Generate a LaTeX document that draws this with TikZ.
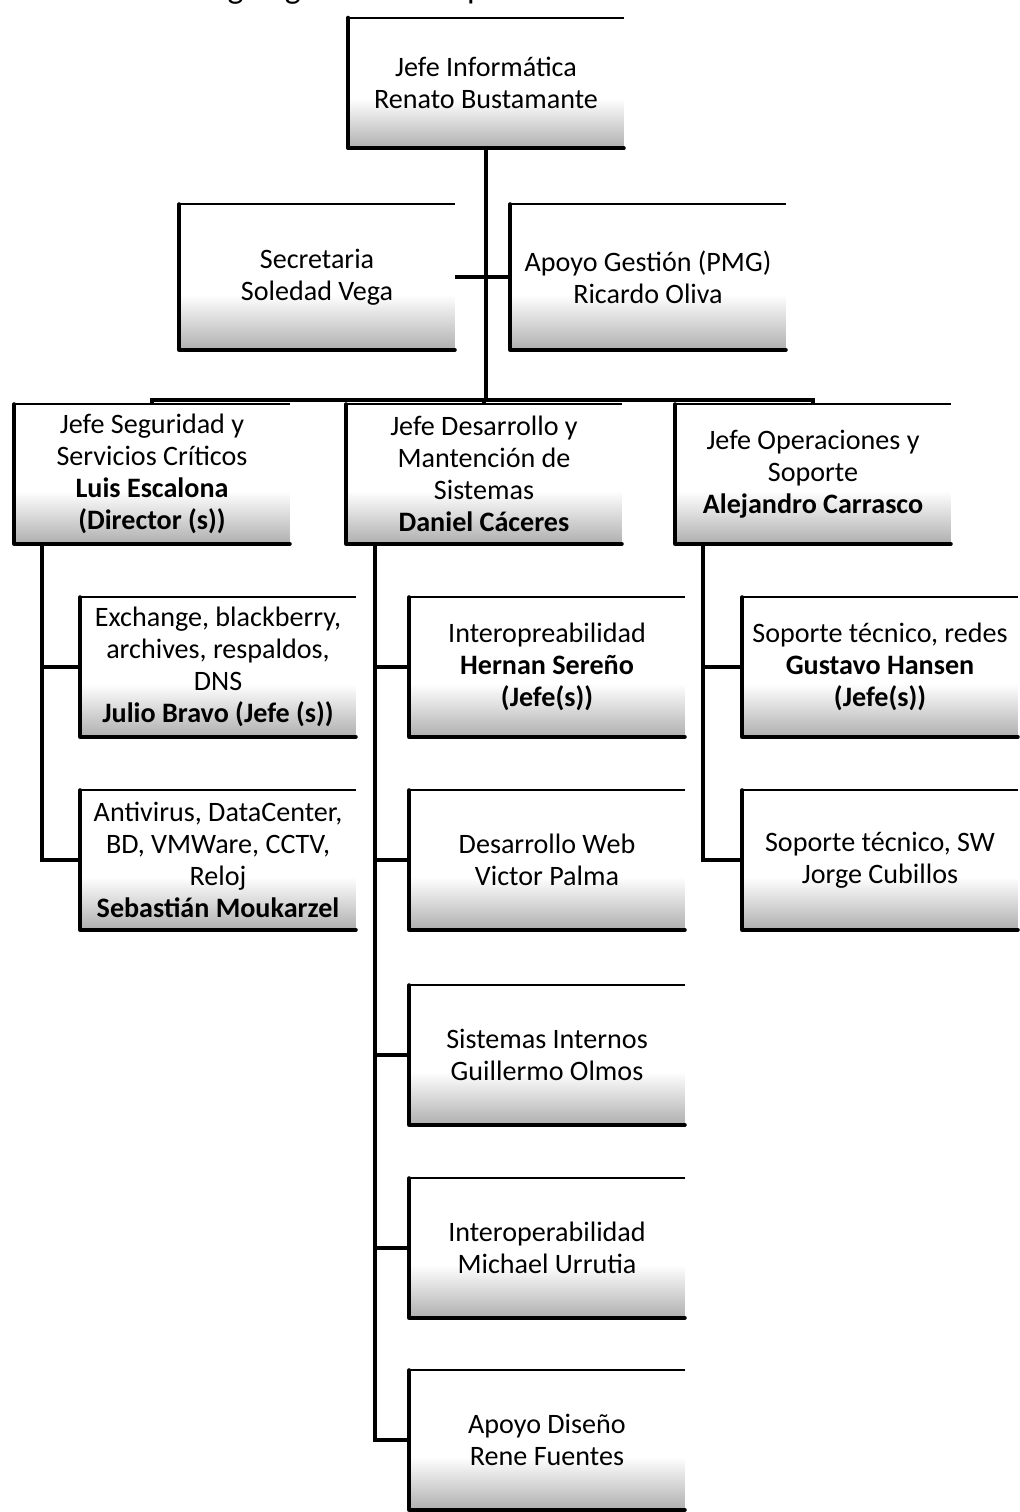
\documentclass[tikz,border=0pt]{standalone}
\usepackage{fontspec}
\setmainfont{Carlito}
\pgfdeclareverticalshading{orgshade}{100bp}{color(0bp)=(black!42); color(22bp)=(black!36); color(44bp)=(white); color(100bp)=(white)}
\tikzset{
	orgbox/.style={shading=orgshade, minimum width=5.5cm, minimum height=2.78cm, align=center, inner sep=1pt, font=\fontsize{16}{18.2}\selectfont},
	boxtop/.style={line width=1.1pt},
	boxedge/.style={line width=2.2pt, line cap=round, line join=round},
	conn/.style={line width=2.6pt}
}
\begin{document}
\begin{tikzpicture}[x=0.02cm, y=-0.02cm]
		\useasboundingbox (0, 0) rectangle (1020, 1512);
			\node[anchor=base, font=\fontsize{19.3}{22}\selectfont] (titulo) at (516, -2){Organigrama del Departamento de Informática};

			\node[orgbox, minimum height=2.6cm] (jefe) at (486, 83){Jefe Informática\\Renato Bustamante};
			\node[orgbox, minimum height=2.9cm] (secre) at (317, 277){Secretaria\\Soledad Vega};
			\node[orgbox, minimum height=2.9cm] (apoyo) at (648, 277){Apoyo Gestión (PMG)\\Ricardo Oliva};

			\node[orgbox] (seg) at (152, 474){Jefe Seguridad y\\Servicios Críticos\\\textbf{Luis Escalona}\\\textbf{(Director (s))}};
			\node[orgbox] (des) at (484, 474){Jefe Desarrollo y\\Mantención de\\Sistemas\\\textbf{Daniel Cáceres}};
			\node[orgbox] (ope) at (813, 474){Jefe Operaciones y\\Soporte\\\textbf{Alejandro Carrasco}};

			\node[orgbox] (exch) at (218, 667){Exchange, blackberry,\\archives, respaldos,\\DNS\\\textbf{Julio Bravo (Jefe (s))}};
			\node[orgbox] (anti) at (218, 860){Antivirus, DataCenter,\\BD, VMWare, CCTV,\\Reloj\\\textbf{Sebastián Moukarzel}};

			\node[orgbox] (interop) at (547, 667){Interopreabilidad\\\textbf{Hernan Sereño}\\\textbf{(Jefe(s))}};
			\node[orgbox] (web) at (547, 860){Desarrollo Web\\Victor Palma};
			\node[orgbox] (internos) at (547, 1055){Sistemas Internos\\Guillermo Olmos};
			\node[orgbox] (interoper) at (547, 1248){Interoperabilidad\\Michael Urrutia};
			\node[orgbox] (diseno) at (547, 1440){Apoyo Diseño\\Rene Fuentes};

			\node[orgbox] (redes) at (880, 667){Soporte técnico, redes\\\textbf{Gustavo Hansen}\\\textbf{(Jefe(s))}};
			\node[orgbox] (sw) at (880, 860){Soporte técnico, SW\\Jorge Cubillos};

			\foreach \n in {jefe, secre, apoyo, seg, des, ope, exch, anti, interop, web, internos, interoper, diseno, redes, sw}{
				\draw[boxtop] (\n.north west) to (\n.north east);
				\draw[boxedge] (\n.north west) to (\n.south west) to (\n.south east);
			}

			\coordinate (bus) at (486, 400);
			\coordinate (segv) at (42, 543);
			\coordinate (desv) at (375, 543);
			\coordinate (opev) at (703, 543);

			\draw[conn] (jefe.south) to (jefe.south |- bus);
			\draw[conn] (secre.east) to (apoyo.west);
			\draw[conn] (seg.north) to (seg.north |- bus) to (ope.north |- bus) to (ope.north);
			\draw[conn] (des.north) to (des.north |- bus);

			\draw[conn] (segv) |- (exch.west);
			\draw[conn] (segv) |- (anti.west);

			\draw[conn] (desv) |- (interop.west);
			\draw[conn] (desv) |- (web.west);
			\draw[conn] (desv) |- (internos.west);
			\draw[conn] (desv) |- (interoper.west);
			\draw[conn] (desv) |- (diseno.west);

			\draw[conn] (opev) |- (redes.west);
			\draw[conn] (opev) |- (sw.west);
\end{tikzpicture}
\end{document}
